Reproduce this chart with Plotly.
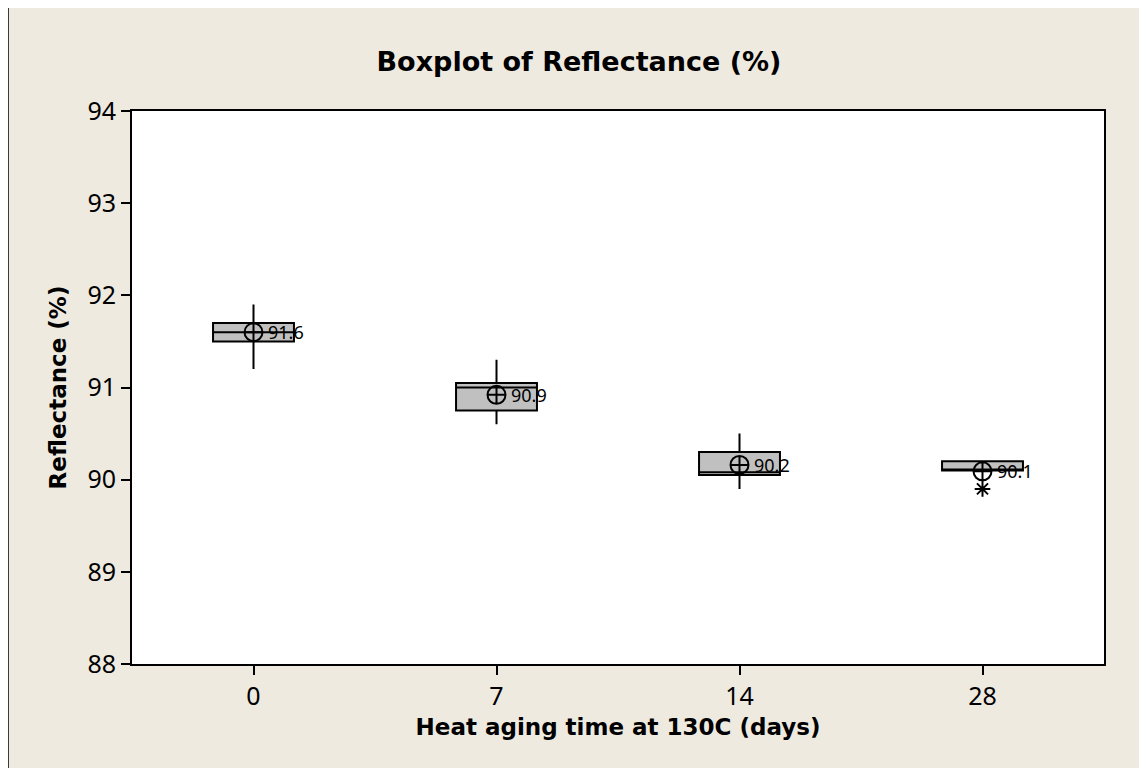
import plotly.graph_objects as go

categories = ["0", "7", "14", "28"]
q1 = [91.5, 90.75, 90.05, 90.1]
median = [91.6, 91.0, 90.08, 90.1]
q3 = [91.7, 91.05, 90.3, 90.2]
lower_whisker = [91.2, 90.6, 89.9, 90.1]
upper_whisker = [91.9, 91.3, 90.5, 90.2]
means = [91.6, 90.92, 90.16, 90.09]
mean_labels = ["91.6", "90.9", "90.2", "90.1"]
outlier_cats = ["28"]
outlier_vals = [89.9]
y_ticks = [88, 89, 90, 91, 92, 93, 94]

# page body has an 8px margin; figure origin is at window (8, 8)
W, H = 1139, 760
L, R, T, B = 124, 43, 103, 104
pw, ph = W - L - R, H - T - B

TF = "DejaVu Sans"
NF = "Noto Sans"

fig = go.Figure()
fig.add_trace(go.Box(
    x=categories, q1=q1, median=median, q3=q3,
    lowerfence=lower_whisker, upperfence=upper_whisker,
    fillcolor="#C0C0C0", line=dict(color="black", width=2),
    whiskerwidth=0, width=0.333, boxpoints=False, showlegend=False,
    hoverinfo="skip",
))
fig.add_trace(go.Scatter(
    x=categories, y=means, mode="markers",
    marker=dict(symbol="circle-cross-open", size=18, color="black",
                line=dict(width=2, color="black")),
    showlegend=False,
))
fig.add_trace(go.Scatter(
    x=outlier_cats, y=outlier_vals, mode="markers",
    marker=dict(symbol="asterisk-open", size=13, color="black",
                line=dict(width=2, color="black")),
    showlegend=False,
))
for i, (m, lab) in enumerate(zip(means, mean_labels)):
    fig.add_annotation(x=i, y=m, text=lab, showarrow=False, xanchor="left",
                       xshift=12, font=dict(family=NF, size=18, color="black"))

def px2paper_x(px):
    return (px - L) / pw

def px2paper_y(py):
    return 1 - (py - T) / ph

fig.add_shape(type="rect", xref="paper", yref="paper",
              x0=px2paper_x(0), x1=px2paper_x(W + 20), y0=px2paper_y(-2), y1=px2paper_y(H + 20),
              fillcolor="#EEEAE0", line=dict(color="black", width=1.5), layer="below")
fig.add_shape(type="rect", xref="paper", yref="paper",
              x0=0, x1=1, y0=0, y1=1, fillcolor="white", line=dict(width=0), layer="below")

fig.update_layout(
    width=W, height=H,
    margin=dict(l=L, r=R, t=T, b=B),
    paper_bgcolor="white", plot_bgcolor="white",
    title=dict(text="<b>Boxplot of Reflectance (%)</b>", x=571 / W, xref="container",
               xanchor="center", y=1 - 54 / H, yanchor="middle",
               font=dict(family=TF, size=27, color="black")),
    font=dict(family=NF, color="black"),
)
fig.update_xaxes(
    type="category", categoryorder="array", categoryarray=categories,
    range=[-0.5, 3.5], showline=True, mirror=True, linecolor="black", linewidth=2,
    ticks="outside", ticklen=9, tickwidth=2, tickcolor="black",
    showgrid=False, zeroline=False,
    tickfont=dict(family=NF, size=25),
    title=dict(text="<b>Heat aging time at 130C (days)</b>", standoff=8,
               font=dict(family=TF, size=23)),
)
fig.update_yaxes(
    range=[88, 94], tickvals=y_ticks, showline=True, mirror=True,
    linecolor="black", linewidth=2,
    ticks="outside", ticklen=9, tickwidth=2, tickcolor="black",
    showgrid=False, zeroline=False,
    tickfont=dict(family=NF, size=25),
    title=dict(text="<b>Reflectance (%)</b>", standoff=14,
               font=dict(family=TF, size=23)),
)

fig.write_html("out.html")
